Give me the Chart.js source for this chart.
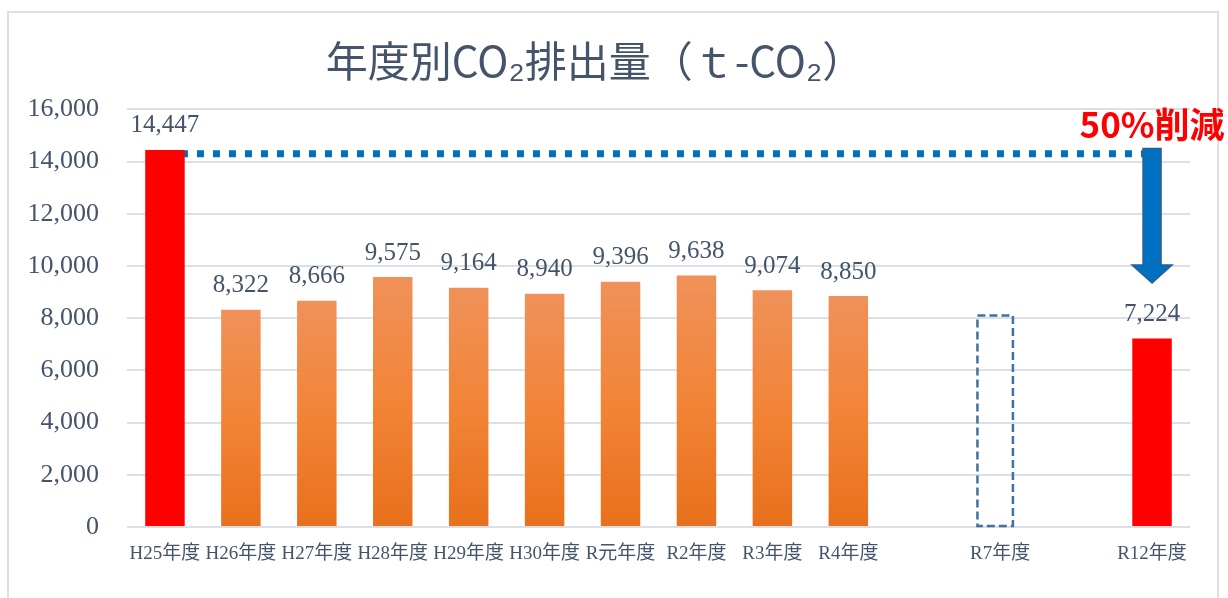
<!DOCTYPE html>
<html>
<head>
<meta charset="utf-8">
<script src="https://cdn.jsdelivr.net/npm/chart.js@4.4.0/dist/chart.umd.min.js"></script>
<style>
  html, body { margin: 0; padding: 0; background: #fff; }
  #wrap { position: relative; width: 1228px; height: 598px; overflow: hidden; }
  #frame { position: absolute; left: 7px; top: 11px; width: 1212px; height: 640px; border: 2px solid #DCE0E6; box-sizing: border-box; }
  canvas { position: absolute; left: 0; top: 0; }
</style>
</head>
<body>
<div id="wrap">
  <div id="frame"></div>
  <canvas id="myChart" width="1228" height="598"></canvas>
</div>
<script>
// 年度ラベル（空欄はR5/R6, R8〜R11の間隔用）
var labels = ["H25年度", "H26年度", "H27年度", "H28年度", "H29年度", "H30年度", "R元年度", "R2年度", "R3年度", "R4年度", "", "R7年度", "", "R12年度"];
// 実績・目標の排出量 (t-CO2)
var emissions = [14447, 8322, 8666, 9575, 9164, 8940, 9396, 9638, 9074, 8850, null, null, null, 7224];
// R7年度（点線の枠）
var target = [null, null, null, null, null, null, null, null, null, null, null, 8100, null, null];
// 基準年の点線
var baseLine = [14300, null, null, null, null, null, null, null, null, null, null, null, null, 14300];
// 矢印（上端と先端の値）
var arrowFrom = 14500;
var arrowTo = 9350;
var reductionText = "50%削減";
var reductionAt = 15400;

var textColor = "#44546A";
var serif = "'Liberation Serif', 'Noto Sans CJK JP', serif";

var ctx = document.getElementById("myChart").getContext("2d");

var barColor = function (c) {
  var i = c.dataIndex;
  if (i === 0 || i === 13) return "#FF0000";
  var y = c.chart.scales.y;
  if (!y || c.raw == null) return "#EE8030";
  var top = y.getPixelForValue(c.raw);
  var bottom = y.getPixelForValue(0);
  var g = c.chart.ctx.createLinearGradient(0, top, 0, bottom);
  g.addColorStop(0, "#F0915A");
  g.addColorStop(0.5, "#F28437");
  g.addColorStop(1, "#E8701C");
  return g;
};

var extras = {
  id: "extras",
  afterDatasetsDraw: function (chart) {
    var c = chart.ctx;
    var xs = chart.scales.x, ys = chart.scales.y;
    c.save();
    // 値ラベル
    var meta = chart.getDatasetMeta(0);
    c.font = "25px " + serif;
    c.fillStyle = textColor;
    c.textAlign = "center";
    c.textBaseline = "middle";
    meta.data.forEach(function (el, i) {
      var v = emissions[i];
      if (v == null) return;
      c.fillText(v.toLocaleString("en-US"), el.x, el.y - 24);
    });
    // R7年度の点線枠
    var tm = chart.getDatasetMeta(1);
    tm.data.forEach(function (el, i) {
      if (target[i] == null) return;
      var w = el.width - 4;
      var x0 = el.x - w / 2 - 5;
      c.setLineDash([8, 4]);
      c.lineWidth = 2.5;
      c.strokeStyle = "#41719C";
      c.strokeRect(x0, el.y, w, el.base - el.y);
    });
    c.setLineDash([]);
    // 矢印
    var ax = xs.getPixelForValue(13);
    var top = ys.getPixelForValue(arrowFrom);
    var tip = ys.getPixelForValue(arrowTo);
    var headLen = 18, shaftW = 9, headW = 20;
    c.beginPath();
    c.moveTo(ax - shaftW, top);
    c.lineTo(ax + shaftW, top);
    c.lineTo(ax + shaftW, tip - headLen);
    c.lineTo(ax + headW, tip - headLen);
    c.lineTo(ax, tip);
    c.lineTo(ax - headW, tip - headLen);
    c.lineTo(ax - shaftW, tip - headLen);
    c.closePath();
    c.fillStyle = "#0070C0";
    c.fill();
    c.lineWidth = 1.5;
    c.strokeStyle = "#2E5E8E";
    c.stroke();
    // 50%削減
    c.font = "bold 35px 'Noto Sans CJK JP', sans-serif";
    c.fillStyle = "#FF0000";
    c.fillText(reductionText, ax, ys.getPixelForValue(reductionAt));
    c.restore();
  }
};

var chart = new Chart(ctx, {
  type: "bar",
  data: {
    labels: labels,
    datasets: [
      {
        label: "排出量",
        data: emissions,
        backgroundColor: barColor,
        grouped: false,
        barPercentage: 0.52,
        categoryPercentage: 1,
        order: 1
      },
      {
        label: "R7年度",
        data: target,
        backgroundColor: "rgba(0,0,0,0)",
        borderWidth: 0,
        grouped: false,
        barPercentage: 0.52,
        categoryPercentage: 1,
        order: 1
      },
      {
        type: "line",
        label: "基準",
        data: baseLine,
        borderColor: "#0070C0",
        borderWidth: 7,
        borderDash: [7, 9],
        borderCapStyle: "butt",
        pointRadius: 0,
        spanGaps: true,
        order: 2
      }
    ]
  },
  options: {
    responsive: false,
    animation: false,
    layout: { padding: { left: 0, right: 38, top: 0, bottom: 0 } },
    plugins: {
      legend: { display: false },
      tooltip: { enabled: false },
      title: {
        display: true,
        text: "年度別CO₂排出量（ｔ-CO₂）",
        color: textColor,
        font: { family: "'Noto Sans CJK JP', sans-serif", size: 42, weight: "normal" },
        padding: { top: 36, bottom: 23 }
      }
    },
    scales: {
      x: {
        grid: { display: false },
        border: { display: false },
        ticks: {
          color: textColor,
          font: { family: serif, size: 19 },
          padding: 8,
          maxRotation: 0,
          autoSkip: false
        },
        afterFit: function (s) { s.height = 71; }
      },
      y: {
        min: 0,
        max: 16000,
        grid: { color: "#DCE0E6", lineWidth: 2, drawTicks: false },
        border: { display: false },
        ticks: {
          stepSize: 2000,
          color: textColor,
          font: { family: serif, size: 26 },
          padding: 28,
          callback: function (v) { return v.toLocaleString("en-US"); }
        },
        afterFit: function (s) { s.width = 127; }
      }
    }
  },
  plugins: [extras]
});
</script>
</body>
</html>
